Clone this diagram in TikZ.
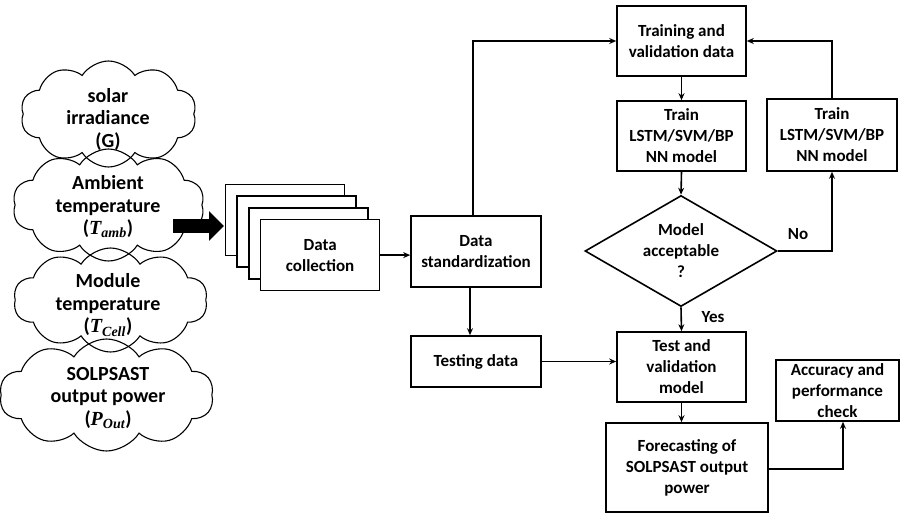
\documentclass[tikz,border=0pt]{standalone}
\usepackage{fontspec}
\setmainfont{Carlito}
\newfontfamily\mlike{Liberation Serif}
\newcommand{\mv}[2]{{\mlike\itshape #1\textsubscript{#2}}}
\usetikzlibrary{shapes.symbols,shapes.geometric,arrows.meta}
\begin{document}
\begin{tikzpicture}[x=1pt,y=-1pt,
  every node/.style={font=\fontsize{17}{21}\selectfont\bfseries, align=center, inner sep=0pt},
  box/.style={draw, line width=1.6pt, rectangle, fill=white},
  cl/.style={draw, line width=1.1pt, cloud, cloud puffs=10, cloud puff arc=115, cloud ignores aspect},
  cltext/.style={font=\fontsize{20}{22.5}\selectfont\bfseries},
  arr/.style={line width=1.6pt, -{Stealth[length=7pt,width=6pt]}}]
\useasboundingbox (0,0) rectangle (900,514);
% clouds
\node[cl, minimum width=176pt, minimum height=106pt] (c1) at (108.5,114) {};
\node[cl, minimum width=192pt, minimum height=112pt] (c2) at (108.5,205) {};
\node[cl, minimum width=194pt, minimum height=104pt] (c3) at (110.5,300) {};
\node[cl, minimum width=214pt, minimum height=112pt] (c4) at (106.5,395) {};
\node[cltext] (t1) at (108,119) {solar\\irradiance\\(G)};
\node[cltext] (t2) at (108,207) {Ambient\\temperature\\(\mv{T}{amb})};
\node[cltext] (t3) at (108,305) {Module\\temperature\\(\mv{T}{Cell})};
\node[cltext] (t4) at (108,398) {SOLPSAST\\output power\\(\mv{P}{Out})};
% thick arrow
\coordinate (ta) at (173,226);
\coordinate (tb) at (224,226);
\draw[line width=14pt, -{Triangle[length=15pt,width=29pt]}] (ta) -- (tb);
% stacked boxes
\node[box, minimum width=119pt, minimum height=71pt] (s1) at (285,220) {};
\node[box, minimum width=119pt, minimum height=71pt] (s2) at (296.7,231.7) {};
\node[box, minimum width=119pt, minimum height=71pt] (s3) at (308.4,243.4) {};
\node[box, minimum width=119pt, minimum height=71pt] (dc) at (320.1,255.1) {Data\\collection};
% main boxes
\node[box, minimum width=130pt, minimum height=71pt] (std) at (476,251.5) {Data\\standardization};
\node[box, minimum width=130pt, minimum height=51pt] (testing) at (476,361.5) {Testing data};
\node[box, minimum width=129pt, minimum height=70pt] (train) at (681.5,41) {Training and\\validation data};
\node[box, minimum width=129pt, minimum height=70pt] (tr1) at (681.5,136) {Train\\LSTM/SVM/BP\\NN model};
\node[box, minimum width=130pt, minimum height=72pt] (tr2) at (832,135) {Train\\LSTM/SVM/BP\\NN model};
\node[draw, line width=1.6pt, diamond, aspect=1.73, minimum width=192pt, minimum height=111pt] (dia) at (681,251) {Model\\acceptable\\?};
\node[box, minimum width=129pt, minimum height=70pt] (test) at (681.5,367) {Test and\\validation\\model};
\node[box, minimum width=123pt, minimum height=61pt] (acc) at (837.5,390.5) {Accuracy and\\performance\\check};
\node[box, minimum width=162pt, minimum height=89pt] (fc) at (687,467.5) {Forecasting of\\SOLPSAST output\\power};
% labels
\node (no) at (798,234) {No};
\node (yes) at (713,317) {Yes};
% connectors
\draw[arr] (dc.east) -- (dc.east -| std.west);
\draw[arr] ([xshift=-3pt]std.north) |- (train.west);
\draw[arr] ([xshift=-6pt]std.south) -- ([xshift=-6pt]std.south |- testing.north);
\draw[arr] (testing.east) -- (testing.east -| test.west);
\draw[arr] (train.south) -- (tr1.north);
\draw[arr] (tr1.south) -- (dia.north);
\draw[arr] (dia.south) -- (test.north);
\draw[arr] (dia.east) -| (tr2.south);
\draw[arr] (tr2.north) |- (train.east);
\draw[arr] (test.south) -- (test.south |- fc.north);
\draw[arr] ([yshift=-1.5pt]fc.east) -| ([xshift=5.5pt]acc.south);
\end{tikzpicture}
\end{document}
